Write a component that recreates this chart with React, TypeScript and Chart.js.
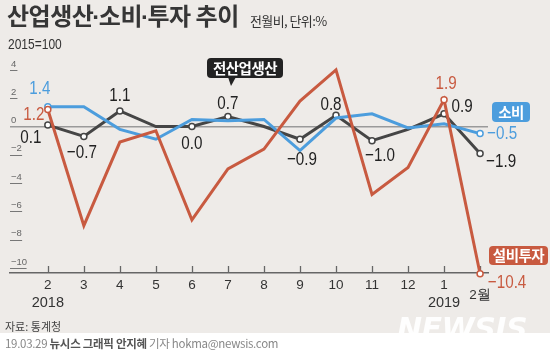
import React, { useEffect, useRef } from 'react';
import { Chart, registerables } from 'chart.js';

Chart.register(...registerables);

// ---- data ----
const monthLabels = ['2', '3', '4', '5', '6', '7', '8', '9', '10', '11', '12', '1', '2월'];
const yearLabels = ['2018', '2019'];
const yearTickIndex = [0, 11];
const yTickValues = [4, 2, 0, -2, -4, -6, -8, -10];

const production = [0.1, -0.7, 1.1, 0.0, 0.0, 0.7, 0.0, -0.9, 0.8, -1.0, -0.2, 0.9, -1.9];
const consumption = [1.4, 1.4, -0.2, -0.9, 0.5, 0.4, 0.5, -1.7, 0.6, 0.9, -0.1, 0.2, -0.5];
const investment = [1.2, -7.0, -1.1, -0.3, -6.6, -3.0, -1.6, 1.8, 4.0, -4.8, -2.9, 1.9, -10.4];

const productionLabeled = [0, 1, 2, 4, 5, 7, 8, 9, 11, 12];
const consumptionLabeled = [0, 12];
const investmentLabeled = [0, 11, 12];

// ---- styles ----
const RED = '#c85a40';
const BLUE = '#4c9ddd';
const DARK = '#454545';
const BG = '#eeebe8';
const SANS = "'Liberation Sans', Arial, sans-serif";
const KR = "'Noto Sans CJK KR', 'Noto Sans', sans-serif";

// label offsets (px) relative to point, keyed by index
const productionOffsets: Record<number, [number, number]> = {
  0: [-17, 13], 1: [-2, 16], 2: [0, -15], 4: [0, 17], 5: [0, -13],
  7: [2, 21], 8: [-5, -10], 9: [8, 15], 11: [18, -7], 12: [21, 8],
};
const consumptionOffsets: Record<number, [number, number]> = { 0: [-8, -18], 12: [22, 0] };
const investmentOffsets: Record<number, [number, number]> = { 0: [-14, 5], 11: [2, -16], 12: [27, 9] };

const fmt = (v: number) => (v < 0 ? '\u2212' : '') + Math.abs(v).toFixed(1);
const fmtTick = (v: number) => (v < 0 ? '\u2212' : '') + String(Math.abs(v));

const noClip = (s: any) => { s._computeLabelArea = () => undefined; };

export default function App() {
  const ref = useRef<HTMLCanvasElement>(null);

  useEffect(() => {
    const canvas = ref.current;
    if (!canvas) return;

    const series = [
      { label: '설비투자', values: investment, color: RED, text: RED, labeled: investmentLabeled, offsets: investmentOffsets },
      { label: '소비', values: consumption, color: BLUE, text: BLUE, labeled: consumptionLabeled, offsets: consumptionOffsets },
      { label: '전산업생산', values: production, color: DARK, text: '#222', labeled: productionLabeled, offsets: productionOffsets },
    ];

    const axisDeco = {
      id: 'axisDeco',
      beforeDatasetsDraw(chart: any) {
        const ctx = chart.ctx;
        const xs = chart.scales.x;
        const ys = chart.scales.y;
        const area = chart.chartArea;
        ctx.save();
        ctx.strokeStyle = '#666';
        ctx.lineWidth = 1.3;
        monthLabels.forEach((_, i) => {
          const px = Math.round(xs.getPixelForValue(i)) + 0.5;
          ctx.beginPath();
          ctx.moveTo(px, area.bottom - 7);
          ctx.lineTo(px, area.bottom);
          ctx.stroke();
        });
        ctx.font = `10px ${SANS}`;
        ctx.strokeStyle = '#777';
        ctx.lineWidth = 1;
        yTickValues.forEach((v) => {
          if (v === 0) return;
          const py = Math.round(ys.getPixelForValue(v)) + 0.5;
          const w = ctx.measureText(fmtTick(v)).width * 0.8;
          ctx.beginPath();
          ctx.moveTo(area.left, py);
          ctx.lineTo(area.left + w + 3, py);
          ctx.stroke();
        });
        ctx.restore();
      },
    };

    const valueLabels = {
      id: 'valueLabels',
      afterDatasetsDraw(chart: any) {
        const ctx = chart.ctx;
        ctx.save();
        ctx.font = `19px ${SANS}`;
        ctx.textAlign = 'center';
        ctx.textBaseline = 'middle';
        series.forEach((s, di) => {
          const meta = chart.getDatasetMeta(di);
          ctx.fillStyle = s.text;
          s.labeled.forEach((idx) => {
            const pt = meta.data[idx];
            const off = s.offsets[idx] || [0, 0];
            ctx.save();
            ctx.translate(pt.x + off[0], pt.y + off[1]);
            ctx.scale(0.8, 1);
            ctx.fillText(fmt(s.values[idx]), 0, 0);
            ctx.restore();
          });
        });
        ctx.restore();
      },
    };

    const chart = new Chart(canvas, {
      type: 'line',
      data: {
        datasets: series.map((s) => ({
          label: s.label,
          data: s.values.map((v, i) => ({ x: i, y: v })),
          borderColor: s.color,
          borderWidth: 3,
          tension: 0,
          clip: false as any,
          pointRadius: (c: any) => (s.labeled.includes(c.dataIndex) ? 3 : 0),
          pointHoverRadius: 0,
          pointBackgroundColor: '#fff',
          pointBorderColor: s.color,
          pointBorderWidth: 1.5,
        })),
      },
      options: {
        animation: false,
        responsive: false,
        devicePixelRatio: 1,
        events: [],
        layout: { padding: { left: 10, right: 62, top: 60, bottom: 42 } },
        plugins: { legend: { display: false }, tooltip: { enabled: false } },
        scales: {
          x: {
            type: 'linear',
            min: -1.05,
            max: 12.22,
            position: 'bottom',
            afterBuildTicks: (s: any) => { s.ticks = monthLabels.map((_, i) => ({ value: i })); },
            afterFit: (s: any) => { s.height = 20; noClip(s); },
            grid: { display: false, drawTicks: false },
            border: { display: true, color: '#666', width: 1.5 },
            ticks: {
              autoSkip: false,
              maxRotation: 0,
              padding: 4,
              color: '#333',
              font: (c: any) => ({ family: SANS, size: 13.5, lineHeight: c.index === 12 ? '12px' : 1.2 }),
              callback: (_v: any, i: number) => (i === 12 ? ['', monthLabels[i]] : monthLabels[i]),
            },
          },
          x2: {
            type: 'linear',
            min: -1.05,
            max: 12.22,
            position: 'bottom',
            afterBuildTicks: (s: any) => { s.ticks = yearTickIndex.map((v) => ({ value: v })); },
            afterFit: (s: any) => { s.height = 20; noClip(s); },
            grid: { display: false, drawTicks: false },
            border: { display: false },
            ticks: {
              autoSkip: false,
              maxRotation: 0,
              padding: 1,
              color: '#333',
              font: { family: SANS, size: 14.5 },
              callback: (_v: any, i: number) => yearLabels[i],
            },
          },
          y: {
            type: 'linear',
            min: -10.35,
            max: 4.7,
            afterBuildTicks: (s: any) => { s.ticks = yTickValues.map((v) => ({ value: v })); },
            afterFit: (s: any) => { s.width = 0; },
            border: { display: false },
            grid: {
              drawTicks: false,
              lineWidth: 1.5,
              color: (c: any) => (c.tick && c.tick.value === 0 ? '#9a9a9a' : 'rgba(0,0,0,0)'),
            },
            ticks: {
              mirror: true,
              padding: 1,
              labelOffset: -6,
              color: '#666',
              font: { family: SANS, size: 9.5 },
              callback: (v: any) => fmtTick(Number(v)),
            },
          },
        },
      } as any,
      plugins: [axisDeco, valueLabels],
    });

    return () => chart.destroy();
  }, []);

  const box = (left: number, top: number, w: number, h: number, bg: string, text: string) => (
    <div
      style={{
        position: 'absolute', left, top, width: w, height: h, background: bg, borderRadius: 4,
        color: '#fff', font: `700 14.5px ${KR}`, letterSpacing: -0.5, display: 'flex',
        alignItems: 'center', justifyContent: 'center', lineHeight: 1,
      }}
    >
      {text}
    </div>
  );

  const dot = <span style={{ fontFamily: SANS, margin: '0 -1px' }}>·</span>;

  return (
    <div style={{ position: 'fixed', left: 0, top: 0, width: 550, height: 355, background: '#fff', overflow: 'hidden' }}>
      <div style={{ position: 'absolute', left: 0, top: 0, width: 550, height: 333, background: BG }} />
      <canvas ref={ref} width={550} height={355} style={{ position: 'absolute', left: 0, top: 0, width: 550, height: 355 }} />
      <div style={{ position: 'absolute', left: 7, top: 3, font: `700 24px ${KR}`, letterSpacing: -0.5, color: '#363636', lineHeight: 1, whiteSpace: 'nowrap' }}>
        산업생산{dot}소비{dot}투자 추이
      </div>
      <div style={{ position: 'absolute', left: 250, top: 14, font: `13px ${KR}`, letterSpacing: -0.6, color: '#333', lineHeight: 1, whiteSpace: 'nowrap' }}>
        전월비, 단위:%
      </div>
      <div style={{ position: 'absolute', left: 8, top: 36, font: `15px ${SANS}`, color: '#333', lineHeight: 1, whiteSpace: 'nowrap', transform: 'scaleX(0.8)', transformOrigin: 'left top' }}>
        2015=100
      </div>
      {box(207, 58, 76, 20, '#222', '전산업생산')}
      <div style={{ position: 'absolute', left: 228, top: 77, width: 0, height: 0, borderLeft: '3px solid transparent', borderRight: '5px solid transparent', borderTop: '9px solid #222' }} />
      {box(492, 102, 38, 20, BLUE, '소비')}
      {box(489, 246, 59, 19, RED, '설비투자')}
      <div style={{ position: 'absolute', left: 5, top: 321, font: `11px ${KR}`, color: '#444', lineHeight: 1, whiteSpace: 'nowrap' }}>
        자료: 통계청
      </div>
      <div style={{ position: 'absolute', left: 5, top: 338, font: `11.5px ${KR}`, color: '#888', lineHeight: 1, whiteSpace: 'nowrap', letterSpacing: -0.3 }}>
        19.03.29 <span style={{ color: '#555', fontWeight: 700 }}>뉴시스 그래픽 안지혜</span> 기자 hokma@newsis.com
      </div>
      <div style={{ position: 'absolute', left: 397, top: 314, font: `italic 900 30px 'DejaVu Sans', sans-serif`, color: 'rgba(255,255,255,0.92)', lineHeight: 1, letterSpacing: -0.5, whiteSpace: 'nowrap' }}>
        NEWSIS
      </div>
    </div>
  );
}
